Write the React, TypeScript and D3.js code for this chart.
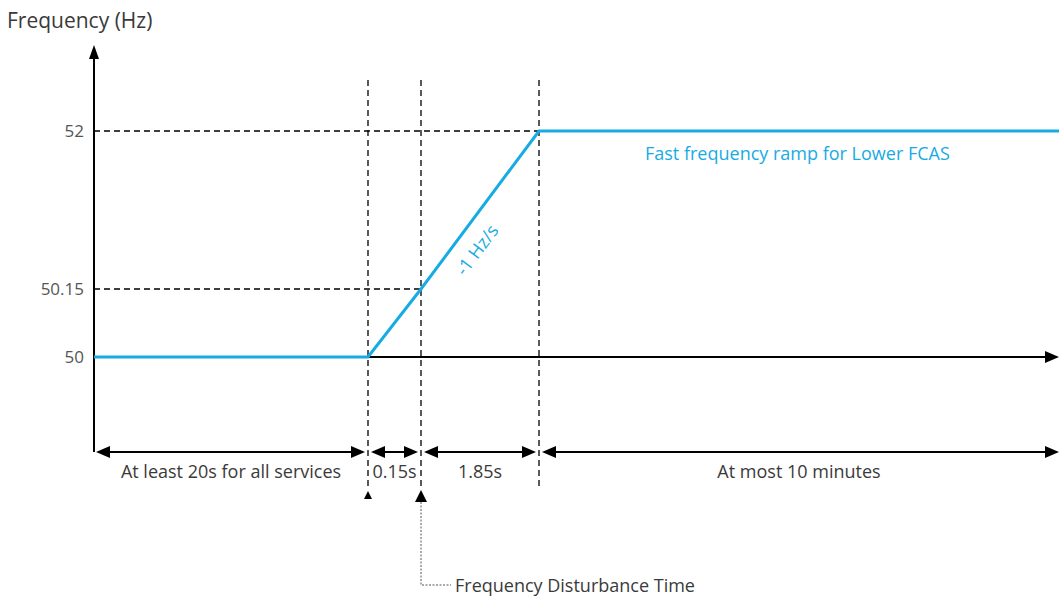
import React from "react";
import * as d3 from "d3";

// time (s), t = 0 at frequency disturbance
const timeBreaks = [-20.15, -0.15, 0, 1.85, 601.85];
const freqBreaks = [50, 50.15, 52];
const freqTicks = ["52", "50.15", "50"];
const freqLine: [number, number][] = [
  [-20.15, 50],
  [-0.15, 50],
  [0, 50.15],
  [1.85, 52],
  [601.85, 52],
];
const spans = [
  { from: -20.15, to: -0.15, label: "At least 20s for all services" },
  { from: -0.15, to: 0, label: "0.15s" },
  { from: 0, to: 1.85, label: "1.85s" },
  { from: 1.85, to: 601.85, label: "At most 10 minutes" },
];
const markers = [-0.15, 0, 1.85];

const BLUE = "#17ABE3";
const TXT = "#3a3a3a";
const FONT = "'Open Sans', 'Noto Sans', sans-serif";

export default function App() {
  const W = 1059, H = 601;
  const xs = d3.scaleLinear<number, number>().domain(timeBreaks).range([94, 368, 421, 539, 1059]);
  const ys = d3.scaleLinear<number, number>().domain(freqBreaks).range([357, 289, 131]);
  const line = d3.line<[number, number]>().x((d) => xs(d[0])).y((d) => ys(d[1]));
  const dimY = 452;
  const x0 = xs(timeBreaks[0]);
  const xEnd = W;

  const arrowHead = (tx: number, ty: number, dir: "l" | "r" | "u", len = 14, hw = 6) => {
    let pts: number[][];
    if (dir === "r") pts = [[tx, ty], [tx - len, ty - hw], [tx - len, ty + hw]];
    else if (dir === "l") pts = [[tx, ty], [tx + len, ty - hw], [tx + len, ty + hw]];
    else pts = [[tx, ty], [tx - hw, ty + len], [tx + hw, ty + len]];
    return <polygon points={pts.map((p) => p.join(",")).join(" ")} fill="#000" />;
  };

  const fx = xs(0);
  const rampAngle = (Math.atan2(ys(52) - ys(50.15), xs(1.85) - xs(0)) * 180) / Math.PI;

  return (
    <svg width={W} height={H} style={{ position: "absolute", left: 0, top: 0, background: "#fff" }}>
      <rect width={W} height={H} fill="#fff" />
      {/* axis title */}
      <text x={7} y={28} fontFamily={FONT} fontSize={21} fill={TXT}>Frequency (Hz)</text>

      {/* dashed reference lines */}
      {markers.map((m, i) => (
        <line key={i} x1={xs(m)} x2={xs(m)} y1={80} y2={490} stroke="#000" strokeWidth={1.3} strokeDasharray="6,4" />
      ))}
      <line x1={x0} x2={xs(1.85)} y1={ys(52)} y2={ys(52)} stroke="#000" strokeWidth={1.3} strokeDasharray="6,4" />
      <line x1={x0} x2={xs(0)} y1={ys(50.15)} y2={ys(50.15)} stroke="#000" strokeWidth={1.3} strokeDasharray="6,4" />

      {/* y axis */}
      <line x1={x0} x2={x0} y1={dimY} y2={58} stroke="#000" strokeWidth={2} />
      {arrowHead(x0, 45, "u", 14, 5)}
      {/* x axis */}
      <line x1={x0} x2={xEnd - 12} y1={ys(50)} y2={ys(50)} stroke="#000" strokeWidth={2} />
      {arrowHead(xEnd, ys(50), "r", 14, 6)}

      {/* y tick labels */}
      {freqTicks.map((t) => (
        <text key={t} x={84} y={ys(+t)} dy="0.35em" textAnchor="end" fontFamily={FONT} fontSize={17} fill="#555">{t}</text>
      ))}

      {/* frequency line */}
      <path d={line(freqLine) || ""} fill="none" stroke={BLUE} strokeWidth={3} />
      <text x={645} y={160} fontFamily={FONT} fontSize={18} fill={BLUE}>Fast frequency ramp for Lower FCAS</text>
      <text
        transform={`translate(${477},${250}) rotate(${rampAngle})`}
        textAnchor="middle"
        dy="0.35em"
        fontFamily={FONT}
        fontSize={18}
        fill={BLUE}
      >-1 Hz/s</text>

      {/* dimension arrows */}
      {spans.map((s, i) => {
        const a = i === 0 ? xs(s.from) + 2 : xs(s.from) + 3;
        const b = i === spans.length - 1 ? xEnd : xs(s.to) - 3;
        return (
          <g key={i}>
            <line x1={a + 10} x2={b - 10} y1={dimY} y2={dimY} stroke="#000" strokeWidth={2} />
            {arrowHead(a, dimY, "l", 14, 6)}
            {arrowHead(b, dimY, "r", 14, 6)}
            <text x={(xs(s.from) + xs(s.to)) / 2} y={478} textAnchor="middle" fontFamily={FONT} fontSize={18} fill={TXT}>{s.label}</text>
          </g>
        );
      })}

      {/* disturbance markers */}
      {arrowHead(xs(-0.15), 491, "u", 8, 4)}
      {arrowHead(fx, 490, "u", 12, 6)}
      <polyline points={`${fx},502 ${fx},585 ${fx + 30},585`} fill="none" stroke="#555" strokeWidth={1} strokeDasharray="2,1.5" />
      <text x={455} y={592} fontFamily={FONT} fontSize={18} fill={TXT}>Frequency Disturbance Time</text>
    </svg>
  );
}
